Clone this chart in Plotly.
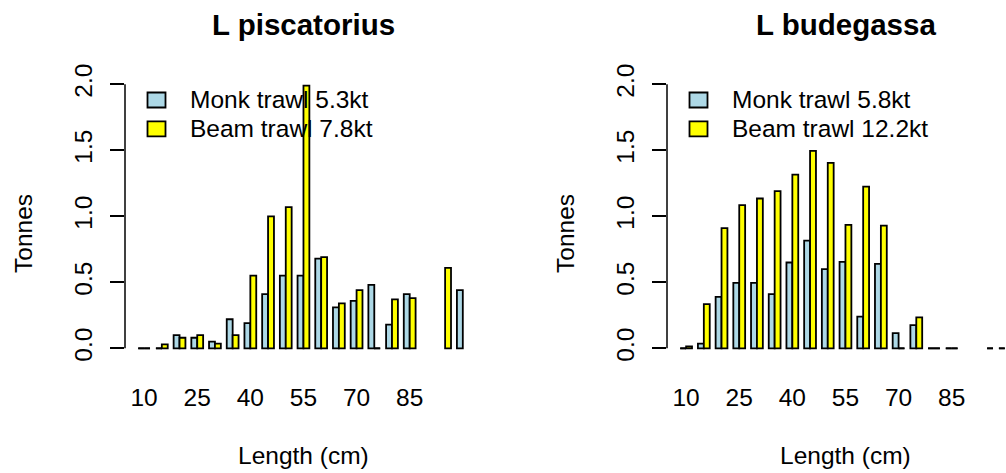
import plotly.graph_objects as go

# ---------------- data ----------------
lengths = [10, 15, 20, 25, 30, 35, 40, 45, 50, 55, 60, 65, 70, 75, 80, 85, 90, 95, 100]
x_tick_vals = [10, 25, 40, 55, 70, 85]
y_tick_vals = [0, 0.5, 1.0, 1.5, 2.0]
y_tick_text = ["0.0", "0.5", "1.0", "1.5", "2.0"]

pisc_monk = [0, 0, 0.10, 0.08, 0.05, 0.22, 0.19, 0.41, 0.55, 0.55, 0.68, 0.31, 0.36, 0.48, 0.18, 0.41, None, None, 0.44]
pisc_beam = [0, 0.03, 0.08, 0.10, 0.035, 0.10, 0.55, 1.00, 1.07, 1.99, 0.69, 0.34, 0.44, 0, 0.37, 0.38, None, 0.61, None]
bude_monk = [0, 0.035, 0.39, 0.495, 0.495, 0.41, 0.65, 0.815, 0.60, 0.655, 0.24, 0.64, 0.115, 0.175, 0, 0, None, None, 0]
bude_beam = [0.015, 0.335, 0.91, 1.085, 1.135, 1.19, 1.315, 1.495, 1.405, 0.935, 1.225, 0.93, 0, 0.235, 0, 0, None, 0, None]

titles = ["L piscatorius", "L budegassa"]
legend_pisc = ["Monk trawl 5.3kt", "Beam trawl 7.8kt"]
legend_bude = ["Monk trawl 5.8kt", "Beam trawl 12.2kt"]
x_title = "Length (cm)"
y_title = "Tonnes"

# ---------------- style ----------------
W, H = 1006, 473
MONK = "#ADD8E6"
BEAM = "#FFFF00"
FONT = "Liberation Sans, Arial, sans-serif"
FS = 24.5
LW = 1.8
STEP = 5.0
BAR_W = STEP / 3.0


def px(x):
    return x / W


def py(y):
    return 1 - y / H


panels = [
    dict(xa="x", ya="y", monk=pisc_monk, beam=pisc_beam, title=titles[0], leg=legend_pisc,
         left=125, right=482, xr=[4.6, 4.6 + (482 - 125) / 3.541]),
    dict(xa="x2", ya="y2", monk=bude_monk, beam=bude_beam, title=titles[1], leg=legend_bude,
         left=667, right=1006, xr=[4.6, 4.6 + (1006 - 667) / 3.541]),
]

top_px, bot_px = 60, 365
zero_px, ppu = 348.3, 132.0
y_range = [-(bot_px - zero_px) / ppu, (zero_px - top_px) / ppu]

fig = go.Figure()
shapes = []
annotations = []

for i, p in enumerate(panels):
    for name, vals, col, side in [(p["leg"][0], p["monk"], MONK, -1), (p["leg"][1], p["beam"], BEAM, 1)]:
        fig.add_trace(go.Bar(
            x=lengths, y=vals, name=name, xaxis=p["xa"], yaxis=p["ya"],
            marker=dict(color=col, line=dict(color="black", width=LW)),
            showlegend=False, hoverinfo="x+y+name",
        ))
        # zero-height bars are drawn as a line, like R does
        for xv, v in zip(lengths, vals):
            if v == 0:
                x0 = xv - BAR_W if side < 0 else xv
                shapes.append(dict(type="line", xref=p["xa"], yref=p["ya"],
                                   x0=x0, x1=x0 + BAR_W, y0=0, y1=0,
                                   line=dict(color="black", width=LW), layer="above"))
    # y axis line from 0 to 2
    shapes.append(dict(type="line", xref=p["xa"] + " domain", yref=p["ya"],
                       x0=0, x1=0, y0=y_tick_vals[0], y1=y_tick_vals[-1],
                       line=dict(color="black", width=1.5)))
    cx = (p["left"] + (p["left"] + 357)) / 2
    annotations.append(dict(text="<b>%s</b>" % p["title"], xref="paper", yref="paper",
                            x=px(cx), y=py(24), xanchor="center", yanchor="middle",
                            showarrow=False, font=dict(size=29.5, family=FONT, color="black")))
    annotations.append(dict(text=x_title, xref="paper", yref="paper",
                            x=px(cx), y=py(455), xanchor="center", yanchor="middle",
                            showarrow=False, font=dict(size=FS, family=FONT, color="black")))
    annotations.append(dict(text=y_title, xref="paper", yref="paper", textangle=-90,
                            x=px(p["left"] - 102), y=py(234), xanchor="center", yanchor="middle",
                            showarrow=False, font=dict(size=FS, family=FONT, color="black")))
    # legend
    off = p["left"] - 125
    for j, (lab, col) in enumerate(zip(p["leg"], [MONK, BEAM])):
        yc = 100 + j * 28.8
        shapes.append(dict(type="rect", xref="paper", yref="paper",
                           x0=px(147.5 + off), x1=px(165.5 + off), y0=py(yc - 7.5), y1=py(yc + 7.5),
                           fillcolor=col, line=dict(color="black", width=LW)))
        annotations.append(dict(text=lab, xref="paper", yref="paper",
                                x=px(188 + off), y=py(yc), xanchor="left", yanchor="middle",
                                showarrow=False, font=dict(size=FS, family=FONT, color="black")))

xcommon = dict(tickmode="array", tickvals=x_tick_vals, ticktext=[str(v) for v in x_tick_vals],
               ticks="outside", ticklen=11, tickcolor="rgba(0,0,0,0)", showline=False,
               showgrid=False, zeroline=False, tickfont=dict(size=FS, family=FONT, color="black"))
ycommon = dict(tickmode="array", tickvals=y_tick_vals, ticktext=y_tick_text, tickangle=-90,
               ticks="outside", ticklen=14, tickwidth=1.5, tickcolor="black", showline=False,
               showgrid=False, zeroline=False, range=y_range, ticklabelstandoff=8,
               domain=[py(bot_px), py(top_px)],
               tickfont=dict(size=FS, family=FONT, color="black"))

fig.update_layout(
    width=W, height=H, margin=dict(l=0, r=0, t=0, b=0),
    paper_bgcolor="white", plot_bgcolor="white",
    barmode="group", bargap=1 / 3, bargroupgap=0,
    xaxis=dict(domain=[px(125), px(482)], range=panels[0]["xr"], anchor="y", **xcommon),
    xaxis2=dict(domain=[px(667), 1.0], range=panels[1]["xr"], anchor="y2", **xcommon),
    yaxis=dict(anchor="x", **ycommon),
    yaxis2=dict(anchor="x2", **ycommon),
    shapes=shapes, annotations=annotations,
    font=dict(family=FONT, color="black"),
)

fig.write_html("out.html", config={"displayModeBar": False},
               post_script="document.body.style.margin='0';document.body.style.overflow='hidden';")
